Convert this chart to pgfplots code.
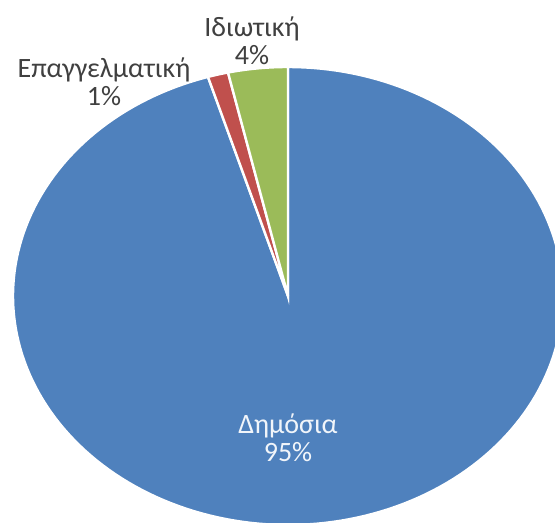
\documentclass[border=0pt]{standalone}
\usepackage{pgfplots}
\usepackage{pgfplotstable}
\pgfplotsset{compat=1.18}
\usepackage{fontspec}
\setmainfont{Carlito}
\definecolor{pubblue}{HTML}{4F81BD}
\definecolor{profred}{HTML}{C0504D}
\definecolor{privgreen}{HTML}{9BBB59}
\definecolor{lbl}{HTML}{404040}
\pgfplotstableread{
slice share
Dimosia 95.3
Epaggelmatiki 1.2
Idiotiki 3.5
}\shares
\begin{document}
\begin{tikzpicture}
\pgfplotstablegetelem{0}{share}\of\shares \let\sPub\pgfplotsretval
\pgfplotstablegetelem{1}{share}\of\shares \let\sProf\pgfplotsretval
\pgfmathsetmacro{\aPubEnd}{90-3.6*\sPub}
\pgfmathsetmacro{\aProfEnd}{\aPubEnd-3.6*\sProf}
\begin{axis}[hide axis, scale only axis, width=277.5pt, height=261.5pt,
  xmin=0, xmax=555, ymin=0, ymax=523, clip=true]
\addplot[fill=pubblue, draw=white, line width=1.2pt, domain=\aPubEnd:90, samples=200]
  ({288+275*cos(x)},{227+229*sin(x)}) -- (288,227) -- cycle;
\addplot[fill=profred, draw=white, line width=1.2pt, domain=\aProfEnd:\aPubEnd, samples=10]
  ({288+275*cos(x)},{227+229*sin(x)}) -- (288,227) -- cycle;
\addplot[fill=privgreen, draw=white, line width=1.2pt, domain=-270:\aProfEnd, samples=20]
  ({288+275*cos(x)},{227+229*sin(x)}) -- (288,227) -- cycle;
\node[align=center, text=lbl, font=\fontsize{14}{14}\selectfont] at (252,482) {Ιδιωτική\\4\%};
\node[align=center, text=lbl, font=\fontsize{14}{14}\selectfont] at (104,441) {Επαγγελματική\\1\%};
\node[align=center, text=white!92!pubblue, font=\fontsize{14}{14}\selectfont] at (288,85) {Δημόσια\\95\%};
\coordinate (ll) at (rel axis cs:0,0);
\coordinate (ur) at (rel axis cs:1,1);
\end{axis}
\pgfresetboundingbox
\useasboundingbox (ll) rectangle (ur);
\end{tikzpicture}
\end{document}
